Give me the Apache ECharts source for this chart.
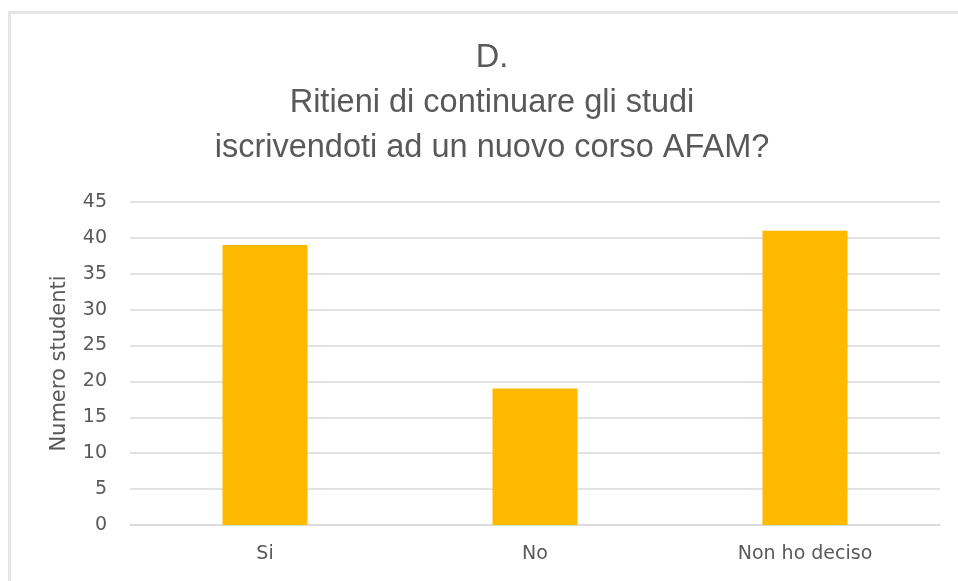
<!DOCTYPE html>
<html>
<head>
<meta charset="utf-8">
<script src="https://cdn.jsdelivr.net/npm/echarts@6/dist/echarts.min.js"></script>
<style>
  html, body { margin: 0; padding: 0; background: #fff; }
  #chart { position: absolute; left: 0; top: 0; width: 958px; height: 581px; }
  #frame {
    position: absolute; left: 8px; top: 11px; width: 960px; height: 580px;
    border-left: 3px solid #e6e6e6; border-top: 3px solid #e6e6e6;
    pointer-events: none;
  }
</style>
</head>
<body>
<div id="chart"></div>
<div id="frame"></div>
<script>
// chart data
const categories = ['Si', 'No', 'Non ho deciso'];
const studenti = [39, 19, 41];
const titleLines = ['D.', 'Ritieni di continuare gli studi', 'iscrivendoti ad un nuovo corso AFAM?'];

const chart = echarts.init(document.getElementById('chart'));

chart.setOption({
    animation: false,
    textStyle: { fontFamily: 'DejaVu Sans, sans-serif' },
    title: {
        text: titleLines.join('\n'),
        left: 487,
        textAlign: 'center',
        top: 31,
        textStyle: {
            fontFamily: 'Liberation Sans, Arial, sans-serif',
            fontWeight: 'normal',
            fontSize: 32.5,
            lineHeight: 45,
            color: '#595959'
        }
    },
    grid: { left: 130, right: 18, top: 202, bottom: 56 },
    xAxis: {
        type: 'category',
        data: categories,
        axisLine: { lineStyle: { color: '#d9d9d9', width: 1.5 } },
        axisTick: { show: false },
        axisLabel: { color: '#595959', fontSize: 19, margin: 20 }
    },
    yAxis: {
        type: 'value',
        min: 0,
        max: 45,
        interval: 5,
        name: 'Numero studenti',
        nameLocation: 'middle',
        nameGap: 60,
        nameRotate: 90,
        nameTextStyle: { color: '#595959', fontSize: 21 },
        axisLine: { show: false },
        axisTick: { show: false },
        axisLabel: { color: '#595959', fontSize: 19, margin: 23 },
        splitLine: { lineStyle: { color: '#d9d9d9', width: 1.5 } }
    },
    series: [{
        type: 'bar',
        data: studenti,
        barWidth: '31.5%',
        itemStyle: { color: '#FFB900' }
    }]
});
</script>
</body>
</html>
